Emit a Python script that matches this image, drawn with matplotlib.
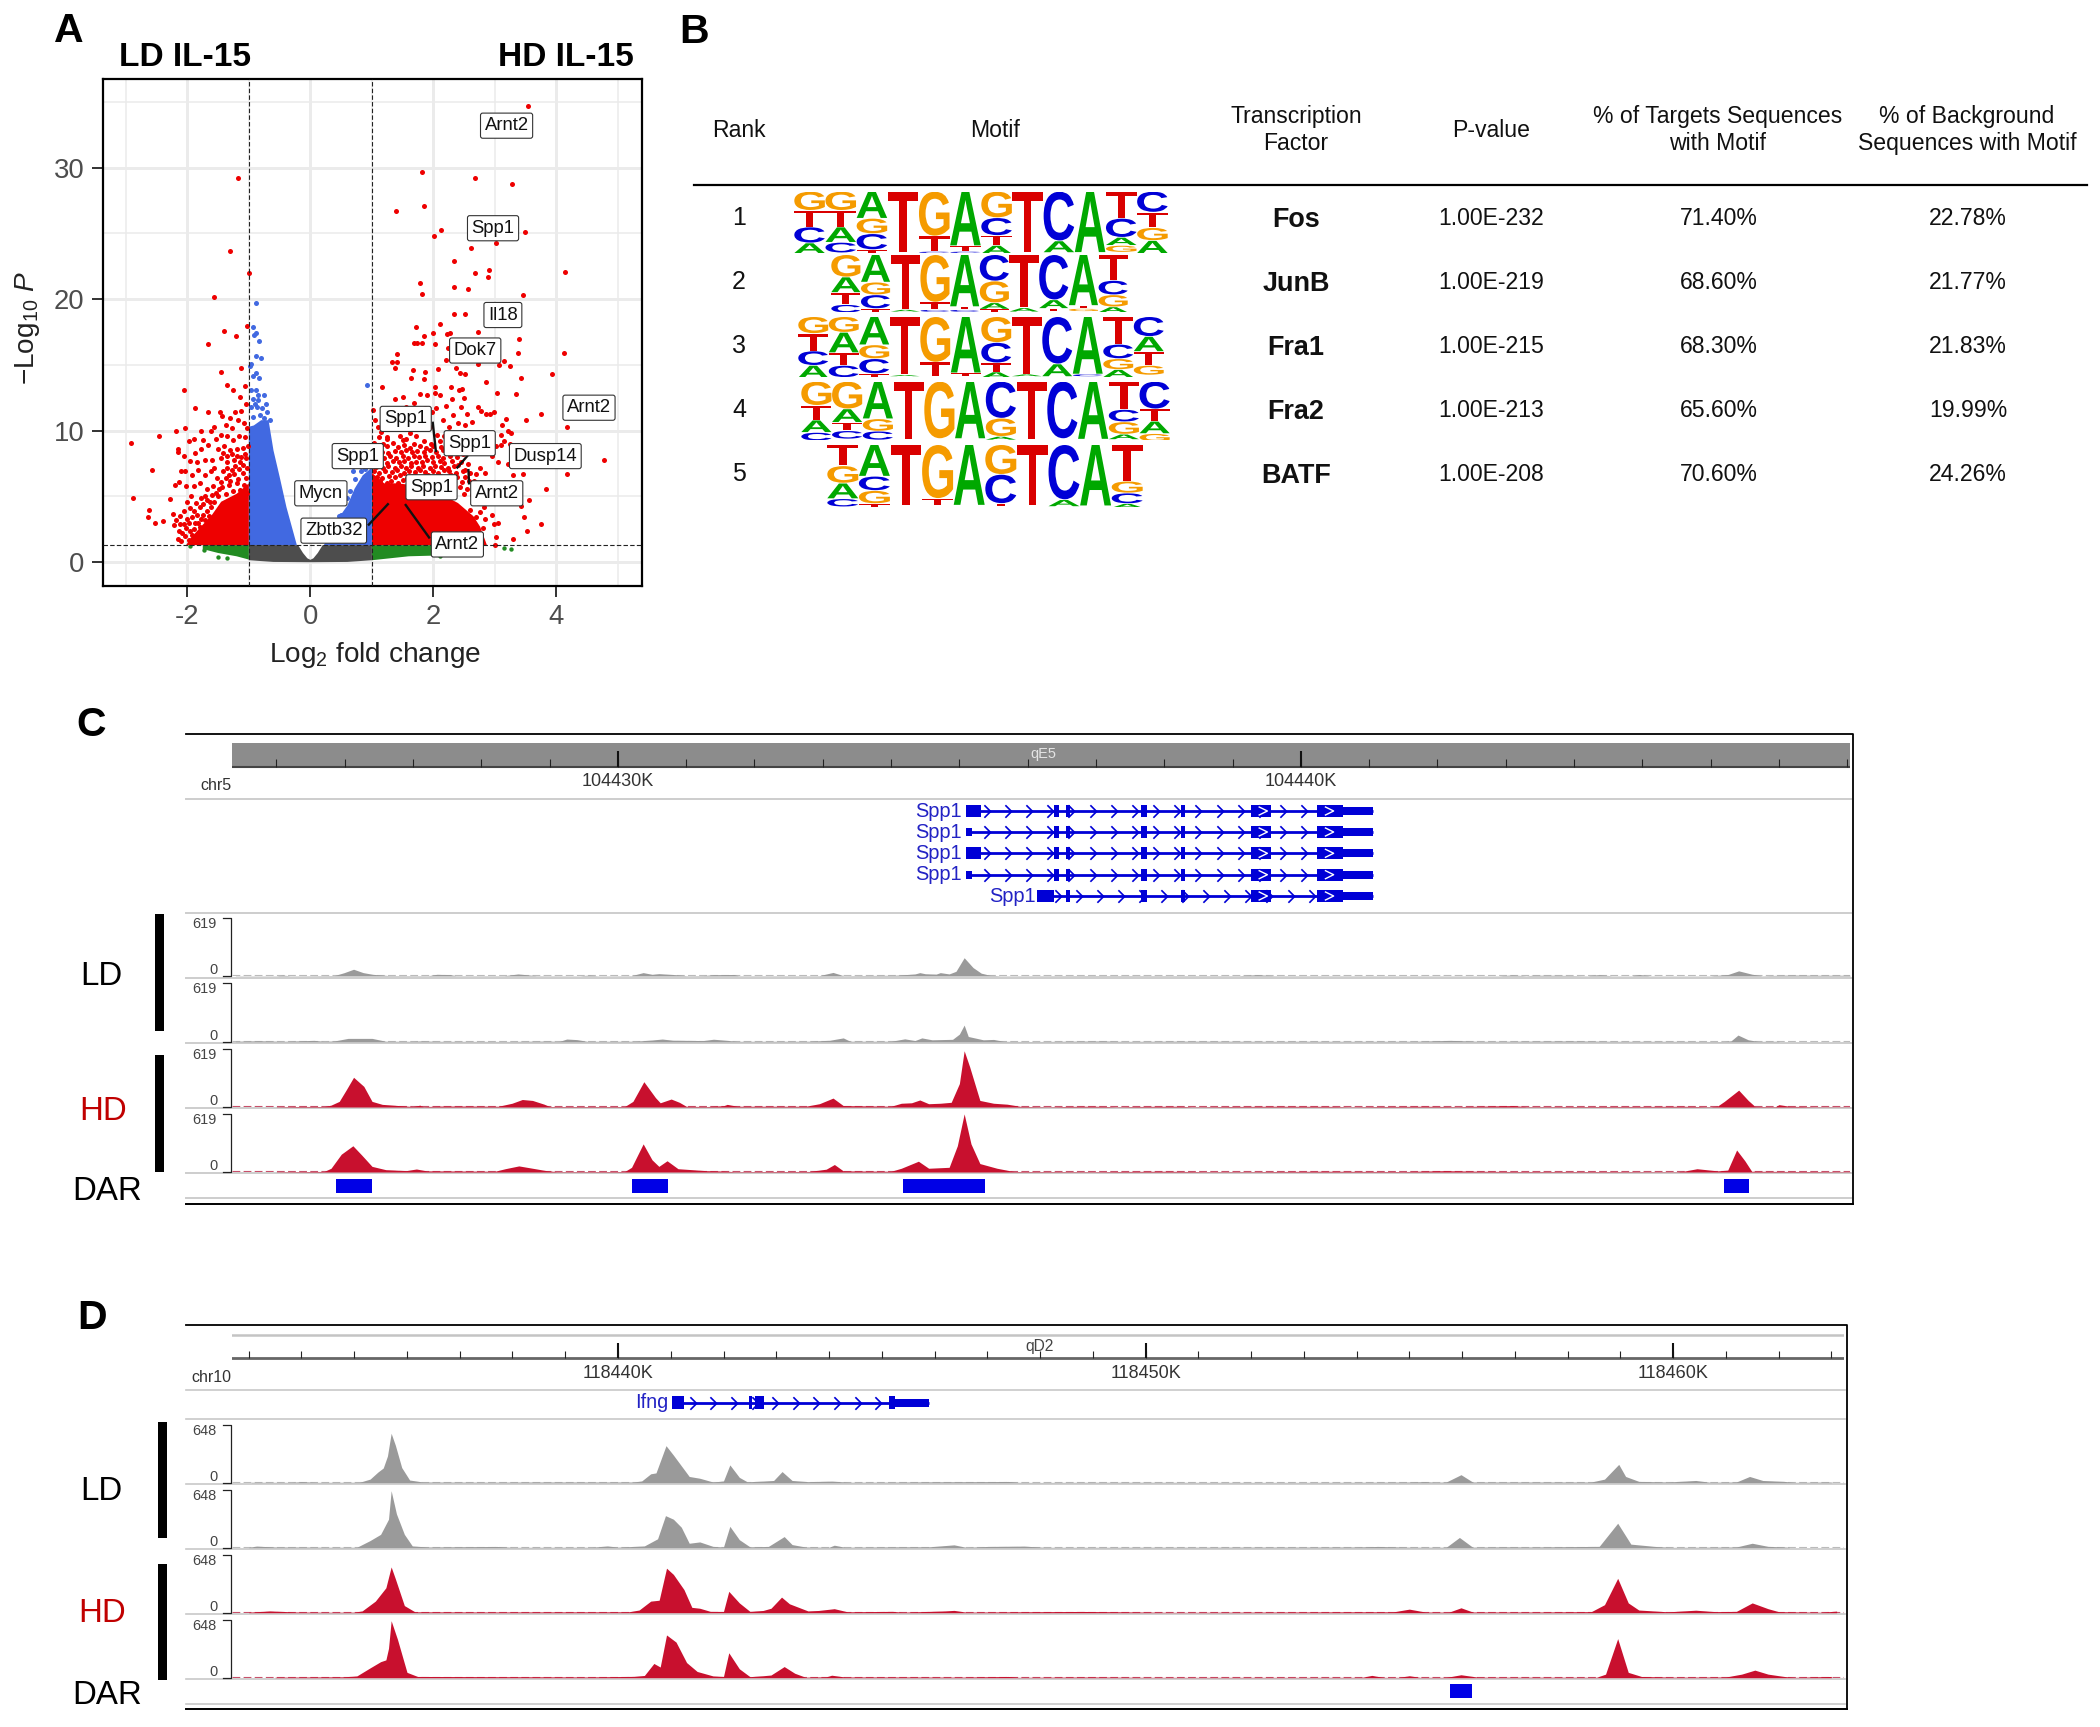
import numpy as np
import matplotlib
matplotlib.use("Agg")
import matplotlib.pyplot as plt
from matplotlib.patches import PathPatch, Rectangle
from matplotlib.path import Path
from matplotlib.textpath import TextPath
from matplotlib.font_manager import FontProperties
from matplotlib.transforms import Affine2D

plt.rcParams['font.family'] = ['Liberation Sans', 'DejaVu Sans']
plt.rcParams['mathtext.fontset'] = 'custom'
plt.rcParams['mathtext.rm'] = 'Liberation Sans'
plt.rcParams['mathtext.it'] = 'Liberation Sans:italic'
plt.rcParams['mathtext.default'] = 'regular'

W, H = 2100, 1727

# ---- panel A data: log2FC, -log10 P
red_right = [
    (3.54, 34.7), (1.82, 29.7), (2.68, 29.2), (3.28, 28.8), (1.40, 26.7), (1.85, 27.1), (2.13, 25.3), (2.01, 24.8),
    (3.02, 24.3), (3.49, 25.1), (2.61, 23.9), (2.33, 22.9), (2.68, 22.0), (2.90, 22.2), (2.88, 21.7), (4.14, 22.1),
    (1.78, 21.2), (1.82, 20.4), (2.34, 20.9), (2.57, 20.8), (3.45, 20.3), (2.34, 18.9), (2.51, 18.9), (1.72, 17.9),
    (2.10, 18.1), (2.00, 17.4), (1.85, 17.2), (2.22, 17.35), (2.27, 17.4), (2.73, 17.5), (3.39, 17.0), (1.69, 16.7),
    (1.74, 16.7), (1.81, 16.7), (2.03, 16.6), (2.24, 16.3), (3.38, 15.9), (4.12, 15.9), (1.41, 15.8), (2.20, 15.4),
    (1.33, 15.2), (1.41, 15.2), (1.37, 14.8), (2.73, 15.1), (3.15, 15.3), (3.07, 15.0), (3.24, 14.9), (1.67, 14.65),
    (1.86, 14.5), (2.07, 14.7), (2.36, 14.8), (2.52, 14.3), (2.44, 14.4), (3.93, 14.3), (3.42, 14.0), (1.64, 14.0),
    (1.84, 13.9), (2.85, 13.7), (1.17, 13.3), (2.29, 13.3), (2.47, 13.2), (2.03, 13.3), (3.03, 12.9), (3.35, 12.8),
    (1.02, 11.6), (1.05, 10.8), (1.10, 10.3), (1.15, 9.9), (1.20, 10.4), (1.25, 9.4), (1.32, 11.0), (1.38, 12.4),
    (1.40, 10.9), (1.45, 9.6), (1.50, 12.6), (1.55, 11.8), (1.60, 11.4), (1.62, 9.8), (1.68, 12.1), (1.72, 11.0),
    (1.78, 12.8), (1.82, 10.2), (1.86, 11.7), (1.90, 12.7), (1.95, 10.3), (1.98, 11.4), (2.02, 12.9), (2.05, 11.7),
    (2.10, 12.7), (2.15, 10.8), (2.18, 9.6), (2.20, 11.9), (2.25, 10.3), (2.30, 12.4), (2.32, 11.2), (2.38, 9.8),
    (2.40, 10.6), (2.42, 13.1), (2.45, 11.8), (2.50, 12.5), (2.52, 10.4), (2.55, 11.3), (2.60, 9.9), (2.62, 10.7),
    (2.68, 9.2), (2.72, 11.8), (2.78, 11.5), (2.85, 11.3), (2.92, 11.3), (2.98, 11.4), (2.75, 8.6), (2.85, 8.9),
    (2.95, 8.1), (3.02, 8.8), (3.10, 9.7), (3.12, 10.4), (3.15, 9.2), (3.18, 10.9), (3.22, 9.95), (3.27, 9.85),
    (3.10, 8.9), (3.05, 7.6), (3.22, 7.5), (3.30, 6.6), (3.45, 6.7), (3.55, 4.7), (3.48, 3.4), (3.52, 2.4),
    (3.42, 4.3), (3.83, 5.6), (3.75, 2.9), (3.30, 1.8), (3.02, 1.9), (3.00, 1.3), (2.98, 2.9), (3.05, 2.95),
    (2.95, 3.6), (2.90, 4.6), (2.85, 5.3), (2.80, 6.0), (2.70, 6.7), (3.75, 11.3), (3.51, 10.8), (4.18, 10.3),
    (4.17, 6.7), (4.78, 7.8), (3.25, 9.0), (2.76, 7.2), (2.84, 6.8), (2.60, 6.8), (2.66, 6.2), (2.74, 5.6),
    (2.78, 4.9), (2.82, 4.2), (2.72, 4.5), (2.76, 3.8), (2.84, 3.3), (2.70, 3.4), (2.66, 2.8), (2.80, 2.6),
    (2.60, 4.0), (2.50, 5.2), (2.46, 6.1), (2.52, 7.0), (2.40, 7.4),
]
red_mass_right = [
    (1.04, 6.1), (1.13, 6.2), (1.25, 6.0), (1.31, 6.15), (1.42, 6.05), (1.50, 6.25), (1.62, 6.0), (1.69, 6.2), (1.78, 6.1),
    (1.88, 6.0), (1.96, 6.2), (2.06, 5.9), (2.15, 6.1), (2.24, 5.8), (2.33, 6.0), (2.44, 5.7), (2.55, 5.6), (2.62, 5.1),
    (1.08, 6.5), (1.17, 6.4), (1.28, 6.55), (1.37, 6.45), (1.46, 6.6), (1.57, 6.4), (1.66, 6.55), (1.74, 6.5), (1.84, 6.4),
    (1.92, 6.6), (2.02, 6.45), (2.11, 6.55), (2.20, 6.4), (2.29, 6.6), (2.39, 6.45), (2.51, 6.5), (2.58, 6.2), (1.03, 6.9),
    (1.12, 6.8), (1.22, 6.95), (1.33, 6.85), (1.41, 7.0), (1.52, 6.8), (1.60, 6.95), (1.70, 6.85), (1.79, 7.0), (1.87, 6.85),
    (1.99, 6.9), (2.08, 6.8), (2.17, 7.0), (2.26, 6.9), (2.36, 6.8), (2.48, 6.95), (1.07, 7.25), (1.18, 7.2), (1.27, 7.3),
    (1.38, 7.15), (1.47, 7.3), (1.55, 7.2), (1.64, 7.35), (1.75, 7.2), (1.83, 7.3), (1.94, 7.15), (2.03, 7.3), (2.13, 7.25),
    (2.23, 7.2), (2.33, 7.35), (2.45, 7.6), (2.56, 7.5), (1.03, 7.6), (1.14, 7.65), (1.24, 7.55), (1.35, 7.7), (1.44, 7.6),
    (1.53, 7.7), (1.63, 7.55), (1.72, 7.65), (1.81, 7.6), (1.90, 7.75), (2.00, 7.6), (2.10, 7.7), (2.18, 7.55), (2.30, 7.7),
    (1.09, 8.0), (1.20, 7.95), (1.30, 8.05), (1.40, 7.95), (1.51, 8.1), (1.59, 7.95), (1.68, 8.05), (1.77, 8.0), (1.86, 8.1),
    (1.97, 8.0), (2.07, 8.1), (2.16, 7.95), (2.27, 8.1), (2.38, 8.0), (2.48, 8.2), (1.05, 8.35), (1.16, 8.4), (1.27, 8.3),
    (1.37, 8.45), (1.47, 8.35), (1.56, 8.5), (1.65, 8.35), (1.74, 8.45), (1.85, 8.35), (1.95, 8.5), (2.05, 8.35), (2.15, 8.5),
    (2.25, 8.4), (2.35, 8.5), (1.12, 8.7), (1.25, 8.8), (1.42, 8.75), (1.53, 8.9), (1.62, 8.7), (1.78, 8.85), (1.88, 8.7),
    (2.00, 8.85), (2.13, 8.75), (2.24, 8.9), (1.04, 9.1), (1.18, 9.0), (1.35, 9.1), (1.50, 9.3), (1.68, 9.0), (1.84, 9.2),
    (1.96, 9.0), (2.10, 9.2), (1.12, 9.5), (1.24, 9.55), (1.56, 9.4), (1.72, 9.6), (2.06, 9.7), (2.28, 9.3),
]
red_left = [
    (-1.17, 29.2), (-1.31, 23.7), (-1.00, 22.0), (-1.56, 20.2), (-1.03, 18.0), (-1.40, 17.6), (-1.21, 17.2),
    (-1.67, 16.6), (-1.12, 14.8), (-1.45, 14.5), (-1.07, 13.4), (-1.35, 13.5), (-1.26, 13.1), (-2.05, 13.1),
    (-1.15, 12.6), (-1.88, 11.7), (-1.67, 11.4), (-1.47, 11.4), (-2.91, 9.1), (-2.46, 9.6), (-2.19, 10.0),
    (-2.04, 10.2), (-2.58, 7.0), (-2.88, 4.9), (-2.63, 4.0), (-2.64, 3.4), (-2.53, 3.0), (-2.40, 3.1), (-2.28, 4.8),
    (-1.05, 12.0), (-1.12, 11.5), (-1.22, 11.4), (-1.30, 11.0), (-1.44, 11.1), (-1.38, 10.4), (-1.28, 10.2),
    (-1.18, 10.8), (-1.08, 10.6), (-1.03, 10.2), (-1.56, 10.3), (-1.62, 10.0), (-1.78, 10.0), (-1.74, 9.3),
    (-1.90, 9.4), (-1.97, 9.2), (-2.16, 8.6), (-2.15, 8.4), (-2.05, 8.1), (-1.88, 8.3), (-1.78, 8.6), (-1.66, 8.9),
    (-1.54, 9.4), (-1.46, 9.7), (-1.36, 9.6), (-1.26, 9.3), (-1.16, 9.6), (-1.06, 9.5), (-1.50, 8.6), (-1.40, 8.8),
    (-1.30, 8.5), (-1.20, 8.6), (-1.10, 8.7), (-1.02, 8.8), (-1.96, 7.7), (-1.85, 7.6), (-1.72, 7.8), (-1.60, 7.8),
    (-1.56, 7.2), (-1.46, 7.9), (-1.35, 7.6), (-1.25, 7.8), (-1.15, 7.6), (-1.05, 7.9), (-2.10, 6.9), (-2.04, 6.9),
    (-1.92, 6.6), (-1.82, 7.0), (-1.72, 6.6), (-1.62, 6.9), (-1.52, 6.4), (-1.42, 6.9), (-1.32, 6.6), (-2.20, 5.9),
    (-2.14, 6.1), (-2.02, 5.8), (-1.90, 5.8), (-1.80, 6.0), (-1.68, 5.6), (-1.58, 5.8), (-1.48, 5.6), (-2.24, 3.7),
    (-2.18, 3.2), (-2.12, 3.5), (-2.06, 3.9), (-2.00, 4.6), (-1.94, 5.0), (-1.86, 4.5), (-1.78, 4.9), (-1.72, 5.0),
    (-1.64, 4.6), (-2.22, 2.8), (-2.14, 2.4), (-2.06, 2.9), (-2.00, 3.3), (-1.92, 3.4), (-1.84, 3.6), (-1.78, 3.3),
    (-2.16, 1.8), (-2.10, 1.6), (-2.04, 2.0), (-1.96, 2.4), (-1.90, 2.5), (-1.03, 5.3), (-1.08, 5.9), (-1.14, 5.5),
    (-1.20, 6.0), (-1.26, 5.4), (-1.32, 5.9), (-1.38, 5.2), (-1.44, 5.7), (-1.50, 5.0), (-1.56, 4.6), (-1.62, 4.2),
    (-1.68, 3.9), (-1.74, 3.6), (-1.04, 6.4), (-1.10, 6.8), (-1.17, 6.3), (-1.24, 6.7), (-1.30, 6.2), (-1.38, 6.4),
    (-1.45, 6.1), (-1.03, 7.2), (-1.09, 7.4), (-1.16, 7.1), (-1.22, 7.3), (-1.28, 7.0), (-1.36, 7.2), (-1.06, 8.2),
    (-1.12, 8.0), (-1.19, 8.1), (-1.27, 8.2), (-1.35, 8.1), (-1.42, 8.3), (-1.80, 4.2), (-1.74, 4.4), (-1.68, 4.7),
    (-1.60, 5.1), (-1.54, 5.3), (-1.95, 4.1), (-1.89, 3.9), (-1.83, 3.0), (-1.97, 3.0), (-1.88, 3.0), (-2.02, 2.6),
    (-1.93, 2.1), (-1.98, 1.7), (-1.88, 1.7), (-2.08, 2.2), (-1.80, 2.7), (-1.72, 3.2), (-1.65, 3.5), (-2.12, 2.9),
]
blue_pts = [
    (-0.89, 19.7), (-0.93, 17.9), (-0.92, 17.3), (-0.89, 17.4), (-0.83, 16.8), (-0.89, 15.7), (-0.80, 15.5), (-0.96, 15.1),
    (-0.98, 14.9), (-0.89, 14.4), (-0.94, 14.15), (-0.83, 14.0), (-0.89, 13.1), (-0.85, 12.75), (-0.75, 12.75), (-0.93, 12.45),
    (-0.85, 12.3), (-0.72, 12.07), (-0.96, 11.8), (-0.87, 11.8), (-0.79, 11.7), (-0.71, 11.4), (-0.93, 11.06), (-0.82, 11.2),
    (-0.66, 10.85), (-0.76, 11.0), (-0.97, 13.1), (-0.90, 12.0), (0.92, 13.45), (0.70, 6.9), (0.82, 6.9), (0.88, 7.1),
    (0.50, 3.6), (0.46, 3.5), (0.60, 4.9), (0.65, 5.4), (0.72, 6.3),
]
red_env_left_x = [-1.0, -1.0, -1.2, -1.45, -1.6, -1.8, -1.95, -2.02]
red_env_left_y = [1.3, 6.0, 5.2, 4.6, 3.6, 2.6, 1.8, 1.3]
red_env_right_x = [1.0, 1.0, 1.2, 1.4, 1.6, 1.9, 2.2, 2.4, 2.65, 2.76, 2.87]
red_env_right_y = [1.3, 6.8, 6.0, 6.0, 5.9, 5.6, 5.0, 4.5, 3.5, 2.7, 1.3]
blue_env_left_x = [-1.0, -1.0, -0.92, -0.8, -0.68, -0.6, -0.5, -0.39, -0.22]
blue_env_left_y = [1.3, 10.3, 10.4, 10.8, 10.8, 8.5, 6.5, 4.2, 1.3]
blue_env_right_x = [0.22, 0.45, 0.60, 0.72, 0.85, 1.0, 1.0]
blue_env_right_y = [1.3, 3.3, 4.3, 5.6, 6.6, 7.2, 1.3]
gray_top_x = [-1.0, -0.2, -0.12, -0.05, 0.0, 0.05, 0.12, 0.2, 1.0]
gray_top_y = [1.3, 1.3, 0.7, 0.3, 0.18, 0.3, 0.7, 1.3, 1.3]
gray_low_x = [-1.0, -0.6, 0.0, 0.6, 1.0]
gray_low_y = [0.15, 0.02, 0.0, 0.02, 0.15]
green_left_x = [-1.75, -1.5, -1.2, -1.0]
green_left_y = [1.0, 0.7, 0.45, 0.2]
green_right_x = [1.0, 1.3, 1.6, 2.0, 2.4, 2.5]
green_right_y = [0.15, 0.3, 0.45, 0.5, 0.65, 0.9]
green_pts = [(-1.96, 1.2), (-1.73, 0.9), (-1.58, 1.2), (-1.5, 0.4), (-1.36, 0.3), (2.1, 0.5), (2.35, 0.6), (2.5, 0.6), (3.15, 1.1), (3.27, 1.0)]

gene_labels = ['Arnt2', 'Spp1', 'Il18', 'Dok7', 'Arnt2', 'Spp1', 'Spp1', 'Dusp14', 'Spp1', 'Mycn', 'Spp1', 'Arnt2', 'Zbtb32', 'Arnt2']
label_x = [3.19, 2.97, 3.13, 2.68, 4.53, 1.55, 2.59, 3.82, 0.77, 0.17, 1.97, 3.03, 0.38, 2.39]
label_y = [33.2, 25.4, 18.8, 16.1, 11.75, 10.9, 9.05, 8.07, 8.07, 5.24, 5.7, 5.24, 2.4, 1.35]
seg_x0 = [1.99, 2.55, 2.57, 0.95, 1.55]
seg_y0 = [10.6, 8.07, 7.0, 2.86, 4.35]
seg_x1 = [2.04, 2.39, 2.58, 1.26, 1.93]
seg_y1 = [8.46, 7.2, 6.0, 4.41, 1.88]

# ---- panel B data
table_head = ['Rank', 'Motif', 'Transcription\nFactor', 'P-value', '% of Targets Sequences\nwith Motif', '% of Background\nSequences with Motif']
ranks = ['1', '2', '3', '4', '5']
factors = ['Fos', 'JunB', 'Fra1', 'Fra2', 'BATF']
pvalues = ['1.00E-232', '1.00E-219', '1.00E-215', '1.00E-213', '1.00E-208']
target_pct = ['71.40%', '68.60%', '68.30%', '65.60%', '70.60%']
background_pct = ['22.78%', '21.77%', '21.83%', '19.99%', '24.26%']
motif_fos = [
    [('G', .30), ('T', .26), ('C', .25), ('A', .16)], [('G', .30), ('T', .26), ('A', .24), ('C', .16)],
    [('A', .43), ('G', .24), ('C', .25), ('T', .07)], [('T', .99)], [('G', .72), ('T', .24), ('C', .02)],
    [('A', .88), ('T', .08), ('C', .02)], [('G', .42), ('C', .28), ('T', .15), ('A', .13)], [('T', .99)],
    [('C', .80), ('A', .18)], [('A', .99)], [('T', .43), ('C', .30), ('A', .12), ('G', .10)],
    [('C', .33), ('T', .24), ('G', .20), ('A', .20)],
]
motif_junb = [
    [('G', .38), ('A', .26), ('T', .20), ('C', .13)], [('A', .47), ('G', .21), ('C', .23), ('T', .07)],
    [('T', .95), ('A', .03)], [('G', .82), ('T', .12), ('C', .03)], [('A', .90), ('T', .04), ('C', .03)],
    [('C', .45), ('G', .37), ('A', .10), ('T', .05)], [('T', .92), ('A', .06)], [('C', .78), ('A', .14), ('T', .04)],
    [('A', .88), ('T', .04), ('G', .04)], [('T', .44), ('C', .24), ('G', .20), ('A', .09)],
]
motif_fra1 = [
    [('G', .27), ('T', .28), ('C', .23), ('A', .20)], [('G', .25), ('A', .33), ('T', .20), ('C', .19)],
    [('A', .46), ('G', .22), ('C', .24), ('T', .06)], [('T', .96), ('A', .02)], [('G', .75), ('T', .23)],
    [('A', .93), ('T', .04)], [('G', .42), ('C', .33), ('T', .14), ('A', .09)], [('T', .95), ('A', .03)],
    [('C', .78), ('A', .20)], [('A', .95), ('C', .03)], [('T', .45), ('C', .23), ('G', .17), ('A', .12)],
    [('C', .32), ('A', .24), ('T', .22), ('G', .15)],
]
motif_fra2 = [
    [('G', .40), ('T', .24), ('A', .20), ('C', .13)], [('G', .46), ('A', .22), ('T', .13), ('C', .13)],
    [('A', .63), ('G', .20), ('C', .14)], [('T', .99)], [('G', .97)], [('A', .97)],
    [('C', .62), ('G', .30), ('A', .05)], [('T', .98)], [('C', .97)], [('A', .98)],
    [('T', .47), ('C', .20), ('G', .20), ('A', .08)], [('C', .46), ('T', .20), ('A', .20), ('G', .12)],
]
motif_batf = [
    [('T', .33), ('G', .27), ('A', .24), ('C', .12)], [('A', .50), ('C', .22), ('G', .20), ('T', .06)], [('T', .98)],
    [('G', .86), ('T', .10)], [('A', .97)], [('G', .47), ('C', .46), ('T', .04)], [('T', .98)],
    [('C', .88), ('A', .10)], [('A', .98)], [('T', .58), ('G', .18), ('C', .16), ('A', .06)],
]
motifs = [motif_fos, motif_junb, motif_fra1, motif_fra2, motif_batf]
base_colors = {'T': '#d90000', 'G': '#f59b00', 'A': '#00a800', 'C': '#0000d6'}

# ---- panel C data: kb from 104430K, signal 0-619
c_ld1_x = [-5.6, -5.0, -4.9, -4.8, -4.15, -4.01, -3.87, -3.73, -3.59, -3.36, -2.77, -2.65, -2.45, -2.38, -1.66, -1.46, -1.2, -0.55, -0.42, -0.3, 0.2, 0.37, 0.5, 0.6, 0.85, 1.0, 1.25, 1.4, 1.7, 1.76, 2.95, 3.15, 3.3, 4.06, 4.35, 4.42, 4.5, 4.66, 4.72, 4.85, 4.95, 5.07, 5.2, 5.32, 5.45, 5.6, 6.93, 9.1, 9.36, 9.6, 12.9, 13.09, 13.3, 13.4, 13.7, 14.2, 14.35, 14.55, 14.85, 14.96, 15.1, 16.0, 16.25, 16.41, 16.6, 16.75, 17.0, 17.2, 17.6, 18.04]
c_ld1_y = [3, 3, 9, 3, 5, 35, 72, 36, 18, 5, 4, 18, 15, 4, 4, 22, 4, 3, 10, 3, 4, 36, 18, 25, 14, 4, 5, 14, 16, 4, 4, 38, 4, 8, 22, 36, 24, 20, 36, 22, 50, 195, 90, 30, 8, 3, 5, 4, 14, 4, 3, 11, 3, 8, 8, 3, 14, 3, 3, 16, 3, 3, 15, 55, 20, 3, 8, 10, 8, 8]
c_ld2_x = [-5.6, -5.25, -4.9, -4.45, -4.3, -4.15, -3.95, -3.6, -3.4, -3.0, -2.9, -2.6, -1.6, -1.0, -0.9, -0.85, -0.75, -0.6, -0.45, 0.25, 0.5, 0.65, 0.8, 1.25, 1.4, 1.6, 1.75, 2.8, 3.1, 3.3, 3.4, 4.0, 4.2, 4.35, 4.45, 4.6, 4.9, 5.0, 5.07, 5.13, 5.35, 5.5, 5.65, 6.1, 7.1, 7.4, 8.2, 9.7, 10.0, 10.7, 11.7, 12.2, 12.6, 13.4, 14.0, 14.6, 15.6, 16.2, 16.3, 16.4, 16.55, 16.7, 17.0]
c_ld2_y = [5, 10, 4, 14, 4, 8, 35, 35, 5, 4, 8, 4, 3, 7, 3, 5, 28, 22, 4, 5, 18, 28, 16, 12, 26, 14, 4, 5, 15, 40, 5, 5, 30, 12, 40, 20, 25, 80, 175, 55, 20, 24, 4, 2, 8, 3, 6, 4, 5, 4, 5, 14, 4, 6, 8, 4, 4, 2, 10, 70, 20, 3, 5]
c_hd1_x = [-5.0, -4.6, -4.3, -4.2, -4.08, -3.98, -3.87, -3.72, -3.6, -3.45, -3.2, -3.0, -2.9, -2.85, -2.6, -2.2, -1.75, -1.55, -1.4, -1.25, -1.08, -1.0, 0.1, 0.22, 0.38, 0.55, 0.62, 0.78, 0.9, 1.0, 1.3, 1.55, 1.6, 1.75, 2.75, 2.95, 3.15, 3.3, 4.0, 4.15, 4.3, 4.42, 4.55, 4.72, 4.88, 5.0, 5.07, 5.15, 5.3, 5.5, 5.7, 5.9, 6.3, 6.8, 7.0, 7.3, 7.8, 8.2, 8.4, 9.1, 9.6, 10.4, 10.7, 11.1, 11.8, 12.3, 13.1, 13.3, 14.0, 15.0, 15.6, 16.0, 16.1, 16.2, 16.41, 16.55, 16.65, 16.95, 17.0, 17.15, 17.5, 18.04]
c_hd1_y = [3, 6, 5, 20, 60, 180, 317, 220, 60, 28, 15, 5, 20, 4, 10, 10, 8, 40, 80, 70, 30, 5, 5, 60, 270, 100, 45, 85, 50, 8, 5, 14, 28, 8, 8, 35, 95, 15, 8, 40, 45, 75, 35, 40, 50, 250, 600, 430, 70, 40, 30, 6, 3, 8, 8, 3, 7, 8, 3, 6, 8, 7, 3, 5, 8, 4, 15, 4, 5, 6, 8, 3, 10, 60, 180, 70, 5, 4, 25, 8, 3, 2]
c_hd2_x = [-5.0, -4.3, -4.2, -4.05, -3.88, -3.75, -3.6, -3.4, -3.1, -2.95, -2.8, -2.2, -1.8, -1.65, -1.45, -1.25, -1.05, -0.9, 0.1, 0.2, 0.37, 0.5, 0.6, 0.72, 0.88, 1.3, 1.55, 1.7, 2.8, 3.05, 3.17, 3.3, 4.0, 4.15, 4.4, 4.55, 4.7, 4.85, 4.97, 5.07, 5.17, 5.3, 5.55, 5.8, 7.0, 8.0, 8.6, 9.3, 10.3, 11.5, 12.1, 12.6, 13.2, 14.3, 15.5, 15.6, 15.8, 16.1, 16.25, 16.38, 16.5, 16.6, 18.04]
c_hd2_y = [3, 6, 40, 190, 280, 180, 60, 25, 15, 32, 12, 10, 8, 35, 65, 40, 15, 4, 5, 50, 300, 130, 60, 120, 35, 14, 10, 4, 6, 30, 80, 12, 8, 40, 115, 40, 45, 50, 280, 620, 300, 90, 40, 5, 4, 8, 4, 4, 8, 5, 14, 8, 5, 5, 3, 8, 35, 12, 20, 235, 120, 8, 3]
c_dar_start = [-4.12, 0.205, 4.18, 16.2]
c_dar_end = [-3.60, 0.738, 5.37, 16.56]
spp1_rows = [811, 832, 853.3, 874.7, 896]
spp1_start = [5.09, 5.09, 5.09, 5.09, 6.13]
spp1_exon_start = [6.38, 6.56, 7.66, 8.24, 9.27, 10.24]
spp1_exon_end = [6.46, 6.62, 7.75, 8.30, 9.56, 10.62]
spp1_end = 11.05

# ---- panel D data: kb from 118440K, signal 0-648
d_ld1_x = [-6.95, -6.2, -6.0, -5.7, -4.9, -4.7, -4.55, -4.45, -4.37, -4.3, -4.22, -4.1, -3.95, -3.7, -2.5, -1.5, -0.2, 0.3, 0.45, 0.62, 0.72, 0.91, 1.05, 1.2, 1.35, 1.55, 1.8, 2.0, 2.12, 2.3, 2.45, 2.8, 2.95, 3.11, 3.3, 3.6, 4.05, 4.4, 5.0, 6.0, 7.0, 7.4, 7.6, 8.0, 9.0, 10.0, 11.0, 13.0, 14.0, 15.0, 15.3, 15.5, 15.7, 15.98, 16.2, 18.45, 18.7, 18.97, 19.1, 19.35, 19.9, 20.43, 20.7, 21.2, 21.45, 21.7, 22.1, 22.3, 23.0]
d_ld1_y = [5, 4, 12, 4, 5, 40, 120, 165, 300, 555, 420, 170, 30, 8, 6, 8, 8, 8, 20, 100, 110, 416, 310, 190, 70, 50, 8, 20, 200, 60, 10, 20, 25, 125, 25, 12, 18, 5, 6, 10, 12, 14, 4, 3, 5, 5, 4, 4, 5, 8, 12, 5, 8, 90, 8, 8, 40, 206, 70, 15, 8, 25, 5, 8, 70, 25, 15, 4, 8]
d_ld2_x = [-7.0, -6.85, -6.5, -6.0, -5.5, -4.95, -4.7, -4.5, -4.35, -4.3, -4.2, -4.05, -3.9, -3.6, -2.3, -2.0, -0.5, -0.2, 0.0, 0.5, 0.75, 0.9, 1.05, 1.2, 1.35, 1.55, 1.8, 2.0, 2.12, 2.3, 2.5, 2.85, 3.15, 3.3, 3.55, 4.0, 4.1, 4.3, 5.3, 5.9, 6.37, 6.6, 7.0, 7.7, 8.1, 14.0, 14.4, 15.0, 15.7, 15.95, 16.2, 16.8, 17.3, 18.6, 18.95, 19.2, 19.7, 20.0, 21.2, 21.5, 21.8, 22.2]
d_ld2_y = [5, 18, 8, 8, 5, 5, 80, 150, 320, 640, 380, 150, 20, 8, 14, 4, 5, 20, 6, 20, 100, 360, 320, 230, 50, 65, 15, 8, 240, 90, 10, 14, 125, 35, 8, 5, 28, 5, 10, 10, 32, 4, 14, 18, 4, 8, 14, 6, 5, 115, 6, 10, 8, 15, 275, 40, 12, 4, 8, 50, 15, 6]
d_hd1_x = [-7.0, -6.6, -6.1, -5.5, -5.0, -4.85, -4.6, -4.4, -4.3, -4.22, -4.05, -3.85, -2.5, 0.2, 0.4, 0.62, 0.78, 0.92, 1.05, 1.25, 1.4, 1.55, 1.75, 2.0, 2.1, 2.3, 2.5, 2.75, 2.9, 3.1, 3.25, 3.6, 3.8, 4.1, 4.35, 5.2, 5.4, 6.2, 6.37, 6.6, 7.0, 8.8, 9.5, 10.5, 14.0, 14.7, 15.0, 15.3, 15.75, 15.98, 16.2, 17.5, 18.45, 18.7, 18.95, 19.15, 19.35, 19.9, 20.43, 20.8, 21.2, 21.5, 21.8, 22.0, 22.8, 23.1]
d_hd1_y = [6, 20, 8, 5, 6, 20, 130, 280, 514, 380, 80, 10, 8, 10, 30, 130, 140, 500, 430, 260, 60, 50, 15, 14, 240, 110, 15, 25, 50, 175, 100, 20, 25, 45, 10, 15, 6, 20, 26, 6, 8, 14, 10, 4, 10, 10, 40, 8, 6, 55, 8, 8, 12, 90, 386, 110, 30, 10, 28, 12, 15, 110, 45, 12, 5, 18]
d_hd2_x = [-6.5, -5.8, -5.2, -4.95, -4.7, -4.5, -4.4, -4.35, -4.3, -4.18, -4.0, -3.8, -0.6, 0.3, 0.5, 0.68, 0.8, 0.92, 1.1, 1.3, 1.5, 1.8, 2.0, 2.1, 2.3, 2.5, 2.75, 2.9, 3.15, 3.35, 3.55, 3.95, 4.05, 4.3, 5.5, 6.5, 7.4, 7.6, 9.0, 10.0, 14.1, 14.29, 14.5, 14.8, 15.0, 15.2, 15.7, 15.98, 16.3, 18.55, 18.72, 18.95, 19.15, 19.4, 20.0, 21.0, 21.3, 21.55, 21.8, 22.1, 22.3, 23.0]
d_hd2_y = [6, 8, 10, 20, 110, 180, 200, 330, 640, 430, 60, 14, 8, 15, 25, 160, 120, 480, 400, 170, 70, 20, 14, 280, 100, 12, 22, 30, 125, 50, 6, 10, 28, 8, 8, 6, 14, 4, 8, 4, 4, 26, 4, 4, 22, 4, 4, 33, 6, 5, 40, 439, 60, 14, 6, 8, 40, 85, 40, 14, 4, 14]
d_dar_start = [15.77]
d_dar_end = [16.18]
ifng_start = 1.03
ifng_exon_start = [2.48, 2.60, 5.14]
ifng_exon_end = [2.54, 2.76, 5.26]
ifng_end = 5.89


def to_pt(px):
    return px * 0.72


fig = plt.figure(figsize=(W / 100, H / 100), dpi=100)


def px_axes(x0, y0, x1, y1):
    return fig.add_axes([x0 / W, 1 - y1 / H, (x1 - x0) / W, (y1 - y0) / H])


bg = px_axes(0, 0, W, H)
bg.set_xlim(0, W)
bg.set_ylim(H, 0)
bg.axis('off')


def txt(x, y, s, size, **kw):
    kw.setdefault('ha', 'center')
    kw.setdefault('va', 'center')
    return bg.text(x, y, s, fontsize=to_pt(size), **kw)


# ---- panel letters
for letter, lx, ly in [('A', 69, 31), ('B', 694, 32), ('C', 91, 725), ('D', 92, 1318)]:
    txt(lx, ly, letter, 41, fontweight='bold')

# ---- panel A
ax = px_axes(102.5, 79, 642.5, 586)
ax.set_xlim(-3.38, 5.40)
ax.set_ylim(-1.81, 36.75)
ax.set_xticks([-2, 0, 2, 4])
ax.set_xticklabels(['-2', '0', '2', '4'])
ax.set_yticks([0, 10, 20, 30])
ax.set_xticks([-3, -1, 1, 3, 5], minor=True)
ax.set_yticks([5, 15, 25, 35], minor=True)
ax.grid(which='major', color='#ebebeb', lw=to_pt(3))
ax.grid(which='minor', color='#ebebeb', lw=to_pt(1.5))
ax.set_axisbelow(True)
ax.tick_params(which='minor', length=0)
ax.tick_params(which='major', length=8, width=1.3, color='#222222', labelcolor='#4d4d4d', labelsize=to_pt(27.5), pad=5)
for sp in ax.spines.values():
    sp.set_linewidth(1.6)
ax.fill(green_left_x + [-1.0, -1.75], green_left_y + [1.3, 1.3], color='#228b22', lw=0, zorder=2)
ax.fill(green_right_x + [2.5, 1.0], green_right_y + [1.3, 1.3], color='#228b22', lw=0, zorder=2)
ax.scatter(*zip(*green_pts), s=10, color='#228b22', lw=0, zorder=2)
ax.fill(gray_low_x + gray_top_x[::-1], gray_low_y + gray_top_y[::-1], color='#4d4d4d', lw=0, zorder=2)
ax.fill(red_env_left_x, red_env_left_y, color='#ee0000', lw=0, zorder=2)
ax.fill(red_env_right_x, red_env_right_y, color='#ee0000', lw=0, zorder=2)
ax.scatter(*zip(*red_left), s=13, color='#ee0000', lw=0, zorder=3)
ax.scatter(*zip(*red_right), s=13, color='#ee0000', lw=0, zorder=3)
ax.scatter(*zip(*red_mass_right), s=13, color='#ee0000', lw=0, zorder=3)
ax.fill(blue_env_left_x, blue_env_left_y, color='#4169e1', lw=0, zorder=2)
ax.fill(blue_env_right_x, blue_env_right_y, color='#4169e1', lw=0, zorder=2)
ax.scatter(*zip(*blue_pts), s=13, color='#4169e1', lw=0, zorder=3)
ax.axvline(-1, color='#222222', lw=0.8, ls=(0, (4, 2)), zorder=4)
ax.axvline(1, color='#222222', lw=0.8, ls=(0, (4, 2)), zorder=4)
ax.axhline(1.3, color='#222222', lw=0.8, ls=(0, (4, 2)), zorder=4)
for x0, y0, x1, y1 in zip(seg_x0, seg_y0, seg_x1, seg_y1):
    ax.plot([x0, x1], [y0, y1], color='#111111', lw=1.7, zorder=5)
for name, x, y in zip(gene_labels, label_x, label_y):
    ax.text(x, y, name, fontsize=to_pt(18.5), ha='center', va='center', color='#111111', zorder=6,
            bbox=dict(boxstyle='round,pad=0.22,rounding_size=0.12', fc='white', ec='#333333', lw=0.8))
txt(185, 57, 'LD IL-15', 33.5, fontweight='bold')
txt(566, 57, 'HD IL-15', 33.5, fontweight='bold')
txt(375, 655, r'Log$_2$ fold change', 28, color='#222222')
txt(27, 328, r'$-$Log$_{10}$ $\mathit{P}$', 28, rotation=90, color='#222222')

# ---- panel B
col_x = [739, 995, 1296, 1491, 1718, 1967]
for s, x in zip(table_head, col_x):
    txt(x, 130, s, 23, linespacing=1.25, color='#111111')
bg.plot([694, 2087], [185, 185], color='black', lw=1.6)
row_y = [218, 282, 346, 410, 474]
for i, y in enumerate(row_y):
    txt(col_x[0], y, ranks[i], 25, color='#111111')
    txt(col_x[2], y + 2, factors[i], 27, fontweight='bold', color='#111111')
    txt(col_x[3], y, pvalues[i], 23, color='#111111')
    txt(col_x[4] + 1, y, target_pct[i], 23, color='#111111')
    txt(col_x[5] + 1, y, background_pct[i], 23, color='#111111')

logo_font = FontProperties(family='Liberation Sans', weight='bold')
logo_boxes = [(794, 191.7, 1168, 252.7), (831, 255, 1128, 312), (798, 317, 1164, 376.7), (801, 381.7, 1170, 440), (827, 445, 1143, 506.7)]
for stacks, box in zip(motifs, logo_boxes):
    lax = px_axes(*box)
    lax.set_xlim(0, len(stacks))
    lax.set_ylim(0, 1)
    lax.axis('off')
    for i, stack in enumerate(stacks):
        top = 1.0
        for base, h in stack:
            tp = TextPath((0, 0), base, size=10, prop=logo_font)
            bb = tp.get_extents()
            tr = Affine2D().translate(-bb.x0, -bb.y0).scale(0.98 / bb.width, h / bb.height).translate(i + 0.01, top - h)
            lax.add_patch(PathPatch(tp, transform=tr + lax.transData, fc=base_colors[base], ec='none'))
            top -= h + 0.012


# ---- panels C and D
def draw_track(x_right, xlim, y_top, y_base, ymax, xs, ys, color, dash):
    tax = px_axes(232, y_top, x_right, y_base)
    tax.set_xlim(*xlim)
    tax.set_ylim(0, ymax)
    tax.axis('off')
    tax.patch.set_alpha(0)
    tax.plot(xlim, [6, 6], color=dash, lw=0.8, ls=(0, (7, 3)), zorder=1)
    tax.fill_between(xs, ys, 0, color=color, lw=0, zorder=2)
    bg.plot([223, 231, 231, 223], [y_top, y_top, y_base, y_base], color='#222222', lw=0.9)
    txt(204, y_top + 6, str(ymax), 14.5, color='#444444')
    txt(213, y_base - 6, '0', 14.5, color='#444444')


def draw_gene(gax, y, start, ex_s, ex_e, end, tall, first, step):
    gax.plot([start, end], [y, y], color='#0000d6', lw=2.0, solid_capstyle='butt')
    chev = Path([(-0.5, 1), (0.5, 0), (-0.5, -1)], [Path.MOVETO, Path.LINETO, Path.LINETO])
    marks = np.arange(start + step, ex_s[-1], step)
    gax.plot(marks, [y] * len(marks), ls='', marker=chev, ms=9, mfc='none', mec='#0000d6', mew=1.2)
    for a, b in zip(ex_s, ex_e):
        gax.add_patch(Rectangle((a, y - tall / 2), b - a, tall, fc='#0000d6', ec='none'))
    gax.add_patch(Rectangle((ex_e[-1], y - tall * 0.32), end - ex_e[-1], tall * 0.64, fc='#0000d6', ec='none'))
    frac = 1.0 if first > 0.15 else 0.64
    gax.add_patch(Rectangle((start, y - tall * frac / 2), first, tall * frac, fc='#0000d6', ec='none'))


# panel C
c_xlim = (-5.65, 18.04)
for y in [799, 912.7, 977.7, 1043, 1108, 1173, 1197.7]:
    bg.plot([186, 1851], [y, y], color='#cdcdcd', lw=1.4)
bg.plot([186, 1853, 1853], [734, 734, 1204], color='black', lw=1.3)
bg.plot([186, 1853], [1204, 1204], color='black', lw=1.4)
cax = px_axes(232, 734, 1850, 1204)
cax.set_xlim(*c_xlim)
cax.set_ylim(1204, 734)
cax.axis('off')
cax.patch.set_alpha(0)
cax.add_patch(Rectangle((c_xlim[0], 743), c_xlim[1] - c_xlim[0], 24, fc='#8c8c8c', ec='none'))
cax.plot(c_xlim, [766.5, 766.5], color='#444444', lw=1.5)
cax.vlines(np.arange(-5, 19), 759, 767, color='#222222', lw=0.8)
cax.vlines([0, 10], 751, 767, color='#111111', lw=1.5)
cax.text(6.23, 754, 'qE5', fontsize=to_pt(14.5), color='#e4e4e4', ha='center', va='center')
txt(216, 785, 'chr5', 16, color='#333333')
txt(618, 781, '104430K', 18, color='#333333')
txt(1301, 781, '104440K', 18, color='#333333')
for i, y in enumerate(spp1_rows):
    first = 0.23 if i in (0, 2) else 0.1
    if i == 4:
        first = 0.25
    k = 0 if i < 4 else 1
    draw_gene(cax, y, spp1_start[i], spp1_exon_start[k:], spp1_exon_end[k:], spp1_end, 12, first, 0.31)
    for a in spp1_exon_start[-2:]:
        cax.plot([a + 0.12, a + 0.24, a + 0.12], [y - 4, y, y + 4], color='white', lw=1)
    bg.text(962 if i < 4 else 1036, y, 'Spp1', fontsize=to_pt(20), color='#2222c4', ha='right', va='center')
for a, b in zip(c_dar_start, c_dar_end):
    cax.add_patch(Rectangle((a, 1179), b - a, 14, fc='#0000e6', ec='none'))
draw_track(1850, c_xlim, 918, 976, 619, c_ld1_x, c_ld1_y, '#9a9a9a', '#bbbbbb')
draw_track(1850, c_xlim, 983, 1041.7, 619, c_ld2_x, c_ld2_y, '#9a9a9a', '#bbbbbb')
draw_track(1850, c_xlim, 1049, 1107, 619, c_hd1_x, c_hd1_y, '#c8102e', '#c8506a')
draw_track(1850, c_xlim, 1114, 1172, 619, c_hd2_x, c_hd2_y, '#c8102e', '#c8506a')
bg.add_patch(Rectangle((155, 914), 9, 117, fc='black', ec='none'))
bg.add_patch(Rectangle((155, 1055), 9, 117, fc='black', ec='none'))
txt(101, 976, 'LD', 33)
txt(103, 1112, 'HD', 33, color='#c00000')
txt(107, 1192, 'DAR', 33)

# panel D
d_xlim = (-7.317, 23.24)
for y in [1390, 1419, 1484, 1549, 1614, 1679, 1703.7]:
    bg.plot([186, 1845], [y, y], color='#c8c8c8', lw=1.2)
bg.plot([186, 1846.5, 1846.5], [1325.3, 1325.3, 1709.3], color='black', lw=1.3)
bg.plot([186, 1846.5], [1709.3, 1709.3], color='black', lw=1.4)
dax = px_axes(232, 1325.3, 1844, 1709.3)
dax.set_xlim(*d_xlim)
dax.set_ylim(1709.3, 1325.3)
dax.axis('off')
dax.patch.set_alpha(0)
dax.plot(d_xlim, [1335.3, 1335.3], color='#c4c4c4', lw=1.8)
dax.plot(d_xlim, [1357.7, 1357.7], color='#666666', lw=2)
dax.vlines(np.arange(-7, 24), 1350.7, 1357.7, color='#222222', lw=0.8)
dax.vlines([0, 10, 20], 1343, 1357.7, color='#111111', lw=1.5)
txt(1040, 1347, 'qD2', 15.5, color='#444444')
txt(211, 1377, 'chr10', 16, color='#333333')
txt(618, 1373, '118440K', 18, color='#333333')
txt(1145.5, 1373, '118450K', 18, color='#333333')
txt(1673, 1373, '118460K', 18, color='#333333')
draw_gene(dax, 1402.7, ifng_start, ifng_exon_start, ifng_exon_end, ifng_end, 12.7, 0.22, 0.39)
bg.text(668, 1402.7, 'Ifng', fontsize=to_pt(20), color='#2222c4', ha='right', va='center')
for a, b in zip(d_dar_start, d_dar_end):
    dax.add_patch(Rectangle((a, 1684), b - a, 14, fc='#0000e6', ec='none'))
draw_track(1844, d_xlim, 1425, 1482.7, 648, d_ld1_x, d_ld1_y, '#9a9a9a', '#bbbbbb')
draw_track(1844, d_xlim, 1490, 1547.7, 648, d_ld2_x, d_ld2_y, '#9a9a9a', '#bbbbbb')
draw_track(1844, d_xlim, 1555, 1612.7, 648, d_hd1_x, d_hd1_y, '#c8102e', '#c8506a')
draw_track(1844, d_xlim, 1620, 1677.7, 648, d_hd2_x, d_hd2_y, '#c8102e', '#c8506a')
bg.add_patch(Rectangle((157.5, 1422), 9, 116, fc='black', ec='none'))
bg.add_patch(Rectangle((157.5, 1564), 9, 116, fc='black', ec='none'))
txt(101, 1491, 'LD', 33)
txt(102, 1614, 'HD', 33, color='#c00000')
txt(107, 1696, 'DAR', 33)

fig.savefig('out.png', dpi=100)
